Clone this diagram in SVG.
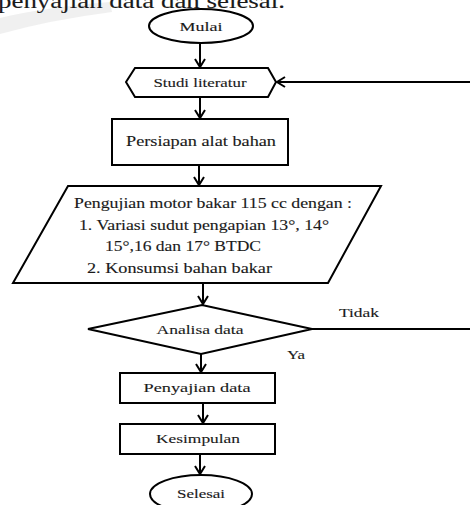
<svg xmlns="http://www.w3.org/2000/svg" width="470" height="505" viewBox="0 0 470 505">
<style>
.s{fill:#fff;stroke:#000;stroke-width:2}
.c{fill:none;stroke:#000;stroke-width:2}
text{font-family:"Liberation Serif","Times New Roman",serif;fill:#1a1a1a;stroke:#1a1a1a;stroke-width:0.12}
.m{text-anchor:middle}
</style>
<defs>
<marker id="ah" markerWidth="12" markerHeight="12" refX="10" refY="6" orient="auto" markerUnits="userSpaceOnUse">
<path d="M2,1 L10,6 L2,11" fill="none" stroke="#000" stroke-width="2"/>
</marker>
</defs>
<rect width="470" height="505" fill="#fff"/>
<path d="M0,18 Q40,8 110,2 L112,12 Q50,20 0,34 Z" fill="#e6e6e6" opacity="0.6"/>
<text x="-2" y="8" font-size="22" textLength="287" lengthAdjust="spacingAndGlyphs" stroke-width="0">penyajian data dan selesai.</text>
<g id="connectors">
<line class="c" x1="200" y1="43" x2="200" y2="67" marker-end="url(#ah)"/>
<line class="c" x1="200" y1="97" x2="200" y2="118" marker-end="url(#ah)"/>
<line class="c" x1="199" y1="165" x2="199" y2="185" marker-end="url(#ah)"/>
<line class="c" x1="203" y1="283" x2="203" y2="304" marker-end="url(#ah)"/>
<line class="c" x1="201" y1="354" x2="201" y2="372" marker-end="url(#ah)"/>
<line class="c" x1="203" y1="403" x2="203" y2="423" marker-end="url(#ah)"/>
<line class="c" x1="200" y1="454" x2="200" y2="474" marker-end="url(#ah)"/>
<line class="c" x1="312" y1="329" x2="470" y2="329"/>
<line class="c" x1="470" y1="82" x2="277" y2="82" marker-end="url(#ah)"/>
<text x="339" y="317" font-size="13" textLength="40" lengthAdjust="spacingAndGlyphs">Tidak</text>
<text x="287" y="359" font-size="13" textLength="18" lengthAdjust="spacingAndGlyphs">Ya</text>
</g>
<g id="mulai">
<ellipse class="s" cx="201" cy="26" rx="52" ry="17"/>
<text class="m" x="201" y="31" font-size="12" textLength="43" lengthAdjust="spacingAndGlyphs">Mulai</text>
</g>
<g id="studi">
<polygon class="s" points="126,82 135,68 268,68 276,82 268,97 135,97"/>
<text class="m" x="200" y="87" font-size="12" stroke-width="0.4" textLength="93" lengthAdjust="spacingAndGlyphs">Studi literatur</text>
</g>
<g id="persiapan">
<rect class="s" x="112" y="119" width="176" height="46"/>
<text class="m" x="201" y="146" font-size="14" textLength="150" lengthAdjust="spacingAndGlyphs">Persiapan alat bahan</text>
</g>
<g id="pengujian">
<polygon class="s" points="68,186 381,186 328,283 13,283"/>
<text x="74" y="208" font-size="14" textLength="278" lengthAdjust="spacingAndGlyphs">Pengujian motor bakar 115 cc dengan :</text>
<text x="79" y="230" font-size="14" textLength="250" lengthAdjust="spacingAndGlyphs">1.  Variasi sudut pengapian 13°, 14°</text>
<text x="105" y="251" font-size="14" textLength="156" lengthAdjust="spacingAndGlyphs">15°,16 dan 17° BTDC</text>
<text x="87" y="273" font-size="14" textLength="185" lengthAdjust="spacingAndGlyphs">2.  Konsumsi bahan bakar</text>
</g>
<g id="analisa">
<polygon class="s" points="88,329 202,305 312,329 201,354"/>
<text class="m" x="200" y="334" font-size="13" textLength="87" lengthAdjust="spacingAndGlyphs">Analisa data</text>
</g>
<g id="penyajian">
<rect class="s" x="120" y="373" width="155" height="30"/>
<text class="m" x="197" y="392" font-size="13" textLength="107" lengthAdjust="spacingAndGlyphs">Penyajian data</text>
</g>
<g id="kesimpulan">
<rect class="s" x="120" y="424" width="155" height="30"/>
<text class="m" x="198" y="443" font-size="13" textLength="84" lengthAdjust="spacingAndGlyphs">Kesimpulan</text>
</g>
<g id="selesai">
<ellipse class="s" cx="201" cy="494" rx="51" ry="19"/>
<text class="m" x="201" y="498" font-size="12" textLength="48" lengthAdjust="spacingAndGlyphs">Selesai</text>
</g>
</svg>
